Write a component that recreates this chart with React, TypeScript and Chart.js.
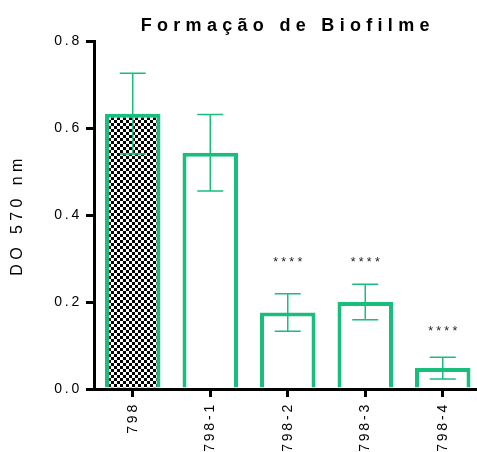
import React, { useEffect, useRef } from "react";
import { Chart, registerables } from "chart.js";

Chart.register(...registerables);

const categories = ["798", "798-1", "798-2", "798-3", "798-4"];
const means = [0.633, 0.543, 0.176, 0.2, 0.048];
const sds = [0.093, 0.088, 0.043, 0.041, 0.025];
const stars = ["", "", "****", "****", "****"];
const starLevels = [null, null, 0.3, 0.3, 0.14];
const yMin = 0;
const yMax = 0.8;
const yStep = 0.2;
const titleText = "Formação de Biofilme";
const yTitleText = "DO 570 nm";

const GREEN = "#19BE7C";
const FONT = "'Liberation Sans', Arial, sans-serif";

function spacingFor(font: string): string {
  if (font.indexOf("bold") >= 0) return "5.3px";
  const m = font.match(/(\d+(?:\.\d+)?)px/);
  const size = m ? parseFloat(m[1]) : 12;
  if (size >= 15) return "4.4px";
  if (size === 14) return "2.8px";
  return "3.2px";
}

function patchContext(ctx: any) {
  if (!ctx || ctx.__patched) return;
  const desc = Object.getOwnPropertyDescriptor(CanvasRenderingContext2D.prototype, "font");
  if (!desc || !desc.set || !desc.get) return;
  Object.defineProperty(ctx, "font", {
    configurable: true,
    get() {
      return desc.get!.call(this);
    },
    set(v: string) {
      desc.set!.call(this, v);
      try {
        this.letterSpacing = spacingFor(v);
      } catch (e) {}
    },
  });
  ctx.__patched = true;
}

function makeChecker(): CanvasPattern | string {
  const c = document.createElement("canvas");
  c.width = 6;
  c.height = 6;
  const g = c.getContext("2d");
  if (!g) return "#888";
  g.fillStyle = "#ffffff";
  g.fillRect(0, 0, 6, 6);
  g.fillStyle = "#000000";
  g.fillRect(0, 0, 3, 3);
  g.fillRect(3, 3, 3, 3);
  return g.createPattern(c, "repeat") || "#888";
}

const errorBarPlugin = {
  id: "errorBars",
  afterDatasetsDraw(chart: any) {
    const ctx = chart.ctx;
    const xs = chart.scales.x;
    const ys = chart.scales.y;
    ctx.save();
    ctx.strokeStyle = GREEN;
    ctx.lineWidth = 1.5;
    for (let i = 0; i < means.length; i++) {
      const x = xs.getPixelForValue(i);
      const yt = ys.getPixelForValue(means[i] + sds[i]);
      const yb = ys.getPixelForValue(means[i] - sds[i]);
      const half = 13;
      ctx.beginPath();
      ctx.moveTo(x, yt);
      ctx.lineTo(x, yb);
      ctx.moveTo(x - half, yt);
      ctx.lineTo(x + half, yt);
      ctx.moveTo(x - half, yb);
      ctx.lineTo(x + half, yb);
      ctx.stroke();
    }
    ctx.fillStyle = "#222";
    ctx.textAlign = "center";
    ctx.textBaseline = "alphabetic";
    ctx.font = "12.5px " + FONT;
    for (let i = 0; i < stars.length; i++) {
      const lvl = starLevels[i];
      if (lvl === null || !stars[i]) continue;
      const x = xs.getPixelForValue(i) + 1.6;
      const y = ys.getPixelForValue(lvl) + 7.2;
      ctx.fillText(stars[i], x, y);
    }
    ctx.restore();
  },
};

export default function App() {
  const ref = useRef<HTMLCanvasElement | null>(null);
  useEffect(() => {
    const canvas = ref.current;
    if (!canvas) return;
    const ctx = canvas.getContext("2d");
    patchContext(ctx);
    const checker = makeChecker();
    const chart = new Chart(canvas, {
      type: "bar",
      data: {
        labels: categories,
        datasets: [
          {
            data: means,
            backgroundColor: means.map((_, i) => (i === 0 ? checker : "#ffffff")) as any,
            borderColor: GREEN,
            borderWidth: 4,
            barPercentage: 0.716,
            categoryPercentage: 1,
          },
        ],
      },
      options: {
        responsive: false,
        animation: false,
        devicePixelRatio: 1,
        layout: { padding: { left: 0, right: 8.5, top: 0, bottom: 0 } },
        plugins: {
          legend: { display: false },
          tooltip: { enabled: false },
          title: {
            display: true,
            text: titleText,
            fullSize: false,
            color: "#000",
            font: { family: FONT, size: 18, weight: "bold", lineHeight: 1.2 },
            padding: { top: 15.7, bottom: 3.7 },
          },
        },
        scales: {
          x: {
            type: "category",
            offset: true,
            grid: {
              display: true,
              drawOnChartArea: false,
              drawTicks: true,
              offset: false,
              tickLength: 8,
              tickWidth: 3,
              lineWidth: 3,
              color: "#000",
            },
            border: { display: true, width: 3, color: "#000" },
            ticks: {
              color: "#000",
              font: { family: FONT, size: 14 },
              minRotation: 90,
              maxRotation: 90,
              padding: 5,
              autoSkip: false,
            },
            afterFit(scale: any) {
              scale.height = 63;
            },
          },
          y: {
            type: "linear",
            min: yMin,
            max: yMax,
            grid: {
              display: true,
              drawOnChartArea: false,
              drawTicks: true,
              tickLength: 8,
              tickWidth: 3,
              lineWidth: 3,
              color: "#000",
            },
            border: { display: true, width: 3, color: "#000" },
            ticks: {
              stepSize: yStep,
              color: "#000",
              font: { family: FONT, size: 14 },
              padding: 4,
              callback: (v: any) => Number(v).toFixed(1),
            },
            title: {
              display: true,
              text: yTitleText,
              color: "#000",
              font: { family: FONT, size: 16, lineHeight: 1.2 },
              padding: { top: 8, bottom: 0 },
            },
            afterFit(scale: any) {
              scale.width = 94;
            },
          },
        },
      },
      plugins: [errorBarPlugin],
    });
    return () => chart.destroy();
  }, []);
  return (
    <div
      style={{
        position: "fixed",
        left: 0,
        top: 0,
        width: 477,
        height: 452,
        overflow: "hidden",
        background: "#fff",
      }}
    >
      <canvas ref={ref} width={490} height={452} style={{ display: "block", width: 490, height: 452 }} />
    </div>
  );
}
